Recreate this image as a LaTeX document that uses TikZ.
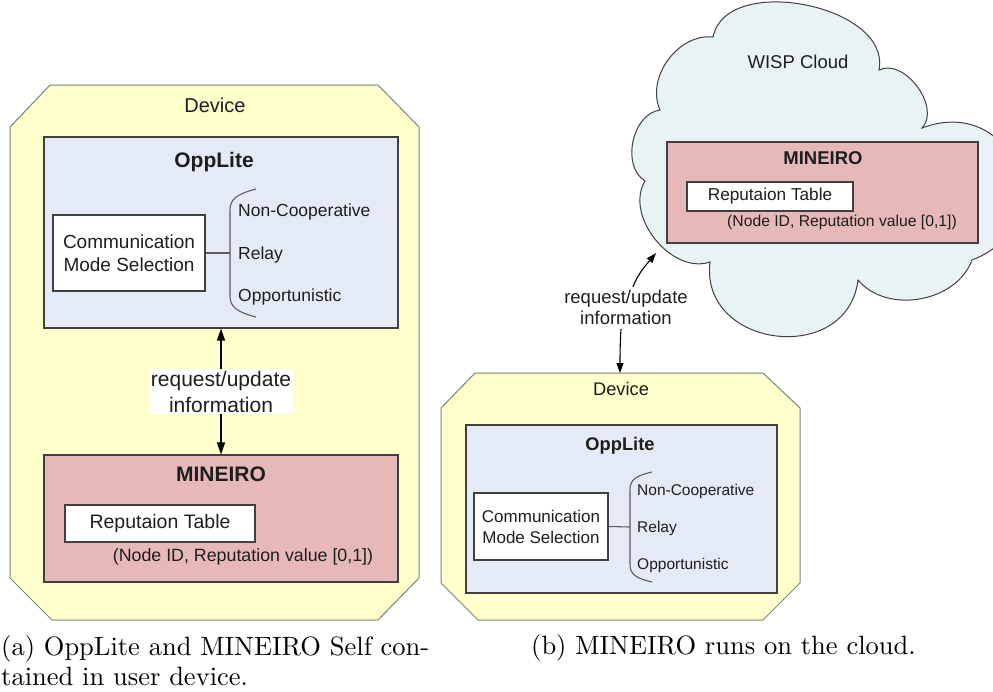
\documentclass[tikz,border=0pt]{standalone}
\usepackage{fontspec}
\usepackage{tikz}
\usetikzlibrary{positioning,arrows.meta}
\newfontfamily\arialfont{Liberation Sans}
\newfontfamily\capfont{lmroman10-regular}[Extension=.otf]
\newcommand{\fsz}[2]{\fontsize{#1}{#2}\selectfont}
\definecolor{devfill}{HTML}{FFFFCC}
\definecolor{devline}{HTML}{808080}
\definecolor{oppfill}{HTML}{E5EBF6}
\definecolor{minfill}{HTML}{E6B8B7}
\definecolor{cloudfill}{HTML}{E9F2F5}
\definecolor{boxline}{HTML}{404040}
\definecolor{inktext}{HTML}{1E1E1E}
\tikzset{
  device/.style={draw=devline, fill=devfill, line width=1pt},
  cloudbg/.style={draw=boxline, fill=cloudfill, line width=1pt},
  panel/.style={rectangle, draw=boxline, line width=1.1pt, inner sep=0pt},
  opp/.style={panel, fill=oppfill},
  mine/.style={panel, fill=minfill},
  whitebox/.style={rectangle, draw=boxline, fill=white, line width=1.1pt, align=center, inner sep=0pt, text=inktext},
  txt/.style={text=inktext, inner sep=0pt, align=center},
  mode/.style={txt, anchor=west},
  brace/.style={draw=boxline!85, line width=1.1pt},
  arr/.style={{Triangle[length=12pt,width=8pt]}-{Triangle[length=12pt,width=8pt]}, line width=1.2pt, draw=black},
  halfarr/.style={-{Triangle[length=10pt,width=7pt]}, line width=1.1pt, draw=black},
  capt/.style={inner sep=0pt, anchor=base west, font=\capfont\fsz{26.5}{31}},
}

\begin{document}
\begin{tikzpicture}[x=1pt, y=1pt]
  \useasboundingbox (0,0) rectangle (993,-691);
  \clip (0,0) rectangle (993,-691);

  % (a) everything inside the device
  \draw[device] (50,-85) -- (378,-85) -- (419,-127) -- (419,-578) -- (378,-620) -- (52,-620) -- (10,-578) -- (10,-127) -- cycle;
  \node[txt, font=\arialfont\fsz{20}{24}] (dev1) at (215,-105) {Device};
  \node[opp, minimum width=354pt, minimum height=191pt] (opp1) at (221,-232.5) {};
  \node[txt, font=\arialfont\bfseries\fsz{21}{25}] (opp1t) at (214,-162) {OppLite};
  \node[whitebox, minimum width=152pt, minimum height=76pt, font=\arialfont\fsz{19}{23}] (comm1) at (129,-253) {Communication\\Mode Selection};
  \coordinate (fork1) at (230,-253);
  \draw[brace] (256,-189) .. controls (237,-194) and (230,-199) .. (230,-210) -- (230,-296) .. controls (230,-307) and (237,-312) .. (256,-317);
  \draw[brace] (comm1.east) -- (fork1);
  \node[mode, font=\arialfont\fsz{17.5}{21}] (nc1) at (238,-212) {Non-Cooperative};
  \node[mode, font=\arialfont\fsz{17.5}{21}] (rl1) at (238,-255) {Relay};
  \node[mode, font=\arialfont\fsz{17.5}{21}] (op1) at (238,-297) {Opportunistic};

  \node[mine, minimum width=354pt, minimum height=127pt] (min1) at (221,-518.5) {};
  \node[txt, font=\arialfont\bfseries\fsz{21}{25}] (min1t) at (221,-474) {MINEIRO};
  \node[whitebox, minimum width=190pt, minimum height=37pt, font=\arialfont\fsz{19.5}{23}] (rep1) at (160,-523.5) {Reputaion Table};
  \node[txt, font=\arialfont\fsz{17.8}{21}] (tup1) at (243,-557) {(Node ID, Reputation value [0,1])};

  \draw[arr] (opp1.south) -- (min1.north) node[midway, txt, fill=white, inner sep=2pt, font=\arialfont\fsz{21}{26}] (req1) {request/update\\information};

  % (b) reputation kept in the cloud
  \draw[cloudbg] (660,-110) to[bend left=60] (713,-37) to[bend left=90] (879,-70) to[bend left=80] (922,-128)
    to[bend left=90, looseness=1.8] (972,-260) to[bend left=60] (858,-280) to[bend left=90, looseness=1.5] (710,-262)
    to[bend left=70] (645,-181) to[bend left=70] (660,-110) -- cycle;
  \node[txt, font=\arialfont\fsz{18.5}{22}] (wisp) at (798,-62) {WISP Cloud};
  \node[mine, minimum width=311pt, minimum height=101pt] (min2) at (822.5,-192.5) {};
  \node[txt, font=\arialfont\bfseries\fsz{18.5}{22}] (min2t) at (823,-158) {MINEIRO};
  \node[whitebox, minimum width=166pt, minimum height=29pt, font=\arialfont\fsz{17.2}{21}] (rep2) at (770,-196.5) {Reputaion Table};
  \node[txt, font=\arialfont\fsz{15.7}{19}] (tup2) at (842,-222) {(Node ID, Reputation value [0,1])};
  \coordinate (cldin) at (656,-253);

  \draw[device] (475,-373) -- (763,-373) -- (800,-408) -- (800,-583) -- (763,-620) -- (478,-620) -- (441,-583) -- (441,-408) -- cycle;
  \coordinate (dev2top) at (620,-373);
  \node[txt, font=\arialfont\fsz{18.3}{22}] (dev2) at (621,-389) {Device};
  \node[opp, minimum width=311pt, minimum height=168pt] (opp2) at (621.5,-509) {};
  \node[txt, font=\arialfont\bfseries\fsz{18.3}{22}] (opp2t) at (620,-446) {OppLite};
  \node[whitebox, minimum width=134pt, minimum height=67pt, font=\arialfont\fsz{17}{21}] (comm2) at (541,-526.5) {Communication\\Mode Selection};
  \coordinate (fork2) at (630,-527);
  \draw[brace] (652,-472) .. controls (635,-476) and (630,-480) .. (630,-490) -- (630,-564) .. controls (630,-574) and (635,-578) .. (652,-582);
  \draw[brace] (comm2.east) -- (fork2);
  \node[mode, font=\arialfont\fsz{15.5}{19}] (nc2) at (637,-491) {Non-Cooperative};
  \node[mode, font=\arialfont\fsz{15.5}{19}] (rl2) at (637,-528) {Relay};
  \node[mode, font=\arialfont\fsz{15.5}{19}] (op2) at (637,-565) {Opportunistic};

  \node[txt, font=\arialfont\fsz{18.5}{21}] (req2) at (626,-307.5) {request/update\\information};
  \draw[halfarr] ([shift={(-5pt,-4pt)}]req2.south) .. controls +(-1pt,-15pt) and +(0pt,15pt) .. (dev2top);
  \draw[halfarr] ([shift={(7pt,3pt)}]req2.north) .. controls +(4pt,12pt) and +(-10pt,-12pt) .. (cldin);

  % captions
  \node[capt] (capa1) at (1,-655) {(a) OppLite and MINEIRO Self con-};
  \node[capt] (capa2) at (1,-685) {tained in user device.};
  \node[capt] (capb) at (531,-654) {(b) MINEIRO runs on the cloud.};
\end{tikzpicture}
\end{document}
